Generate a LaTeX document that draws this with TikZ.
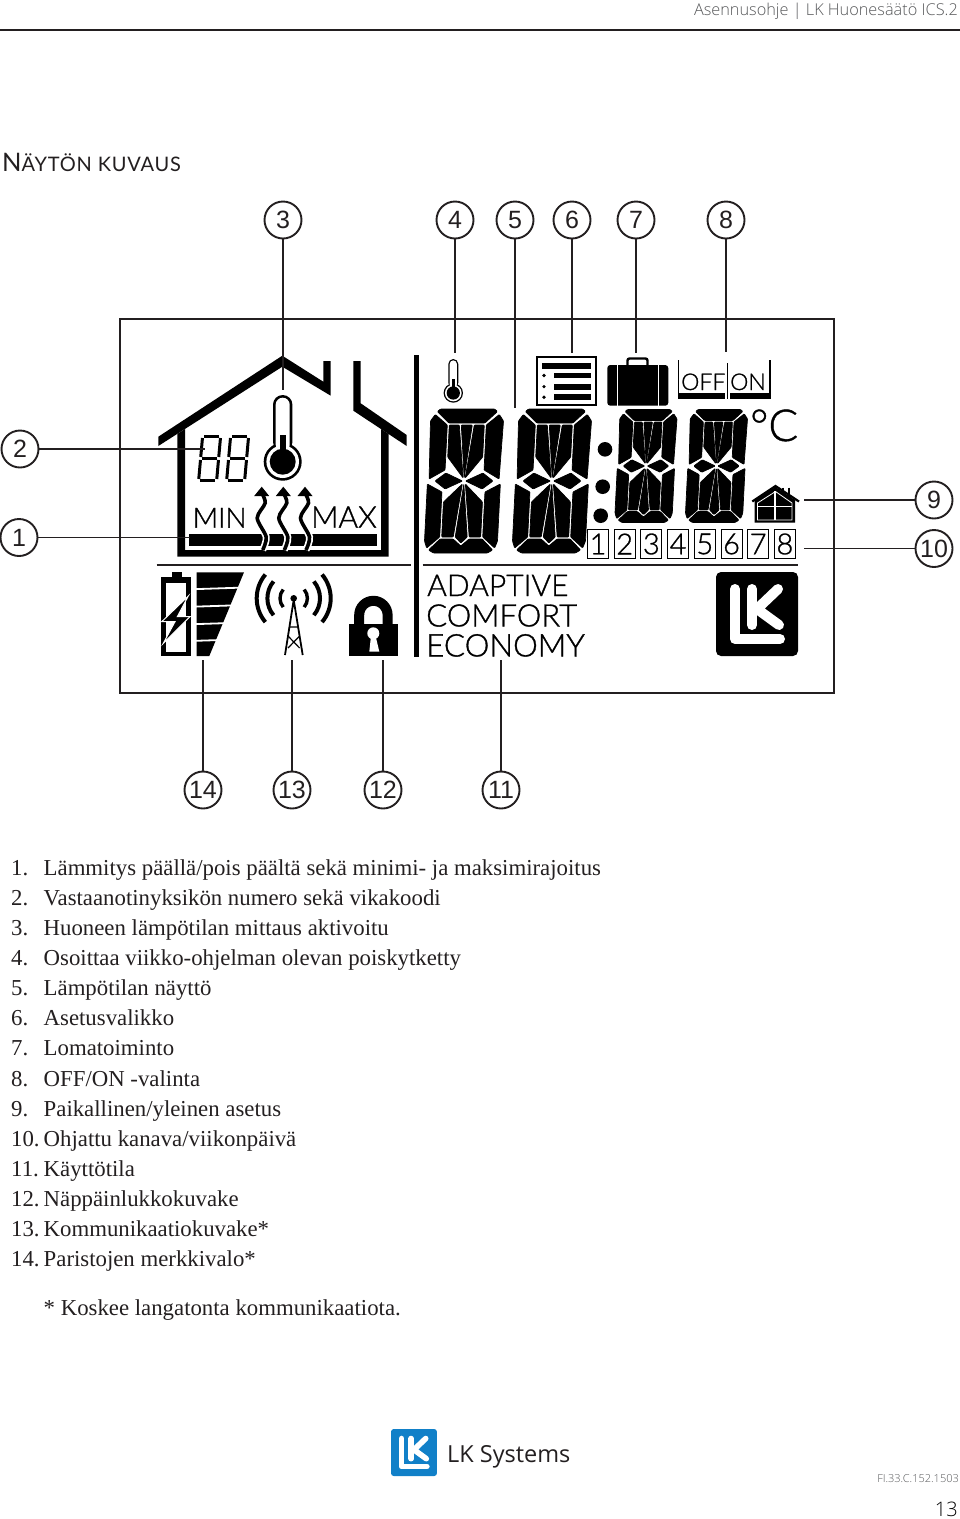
\documentclass[tikz,border=0pt]{standalone}
\usepackage{fontspec}
\usepackage{xcolor}
\setmainfont{Liberation Serif}
\newfontfamily\lcdfont{Lato Light}[FakeBold=1]
\newfontfamily\headfont{Open Sans Light}
\newfontfamily\brandfont{Open Sans}
\newfontfamily\titlefont{Lato}[LetterSpace=4]
\newfontfamily\labelfont{Liberation Sans}
\definecolor{ink}{HTML}{231F20}
\definecolor{headgrey}{HTML}{58595B}
\definecolor{lkblue}{HTML}{1180C8}
\newcommand{\fs}[1]{\fontsize{#1}{#1}\selectfont}
\tikzset{
  callout/.style={circle, draw=ink, line width=1.9pt, minimum size=37pt, inner sep=0pt,
    fill=white, text=ink, font=\labelfont\fs{25}},
  leader/.style={draw=ink, line width=1.7pt},
  lcdtext/.style={anchor=base west, inner sep=0pt, text=black, font=\lcdfont\fs{#1}},
  listtext/.style={anchor=base west, inner sep=0pt, text=ink, font=\fs{22.8}},
  numbox/.style={draw=black, line width=1pt, minimum width=21pt, minimum height=29pt, inner sep=0pt,
    text=black, font=\lcdfont\fs{29}},
  lcdseg/.style={fill=black, draw=black, line width=0.7pt, rounded corners=0.8pt},
}
% big segment digit, centre x, centre y, scale
\newcommand{\lcddigit}[3]{%
  \begin{scope}[shift={(#1,#2)}, scale=#3, xslant=0.05]
    \filldraw[lcdseg] (-27,-72) -- (27,-72) -- (30,-69.5) -- (18,-58) -- (-18,-58) -- (-30,-69.5) -- cycle;
    \filldraw[lcdseg] (-27,72) -- (27,72) -- (32,69) -- (21,58) -- (8,58) -- (0,65) -- (-8,58) -- (-21,58) -- (-32,69) -- cycle;
    \filldraw[lcdseg] (0,-3) -- (-5.5,-56) -- (5.5,-56) -- cycle;
    \filldraw[lcdseg] (0,3) -- (6,56) -- (0,62) -- (-6,56) -- cycle;
    \foreach \sx in {1,-1} {
      \begin{scope}[xscale=\sx]
        \filldraw[lcdseg] (-32,-66.5) -- (-19.5,-56) -- (-19.5,-11) -- (-35,-2) -- (-36.5,-60) -- cycle;
        \filldraw[lcdseg] (-17.5,-56) -- (-7.5,-56) -- (-1,-3) -- (-17.5,-24) -- cycle;
        \filldraw[lcdseg] (-29,0) -- (-18.5,-8) -- (-1.5,0) -- (-18.5,8) -- cycle;
        \filldraw[lcdseg] (-36.5,3) -- (-21.5,11) -- (-21.5,56) -- (-34,67) -- (-36.5,60) -- cycle;
        \filldraw[lcdseg] (-19.5,21) -- (-1.5,3) -- (-8,56) -- (-19.5,56) -- cycle;
      \end{scope}
    }
  \end{scope}
}
% small seven segment digit, bottom left corner
\newcommand{\sevenseg}[2]{%
  \begin{scope}[shift={(#1,#2)}, xslant=0.09]
    \foreach \ax/\ay/\bx/\by in {3/-45.5/18/-45.5, 3/-23.5/18/-23.5, 3/-1.5/18/-1.5,
        1.5/-44/1.5/-25, 1.5/-22/1.5/-3, 19.5/-44/19.5/-25, 19.5/-22/19.5/-3}
      \draw[black, line width=3pt] (\ax,\ay) -- (\bx,\by);
  \end{scope}
}
% thermometer, bulb centre x, y, scale
\newcommand{\thermo}[3]{%
  \begin{scope}[shift={(#1,#2)}, scale=#3]
    \fill[black] (0,0) circle (19);
    \fill[black, rounded corners=#3*9.7pt] (-9.7,-10) -- (-9.7,-66.7) -- (9.7,-66.7) -- (9.7,-10) -- cycle;
    \fill[white] (0,0) circle (16.3);
    \fill[white, rounded corners=#3*7pt] (-7,-10) -- (-7,-64) -- (7,-64) -- (7,-10) -- cycle;
    \fill[black] (0,0) circle (13);
    \fill[black] (-2.9,-27) rectangle (2.9,-5);
  \end{scope}
}
% logo, top left x, y, scale, colour
\newcommand{\lklogo}[4]{%
  \begin{scope}[shift={(#1,#2)}, scale=#3]
    \fill[#4, rounded corners=#3*5pt] (0,0) rectangle (82,84);
    \draw[white, line width=#3*10pt, line cap=round, line join=round] (19,17) -- (19,67) -- (64,67);
    \draw[white, line width=#3*10pt, line cap=round] (36,17) -- (36,53);
    \draw[white, line width=#3*10pt, line cap=round, line join=round] (62,17) -- (41,37) -- (63,53);
  \end{scope}
}

\begin{document}
\begin{tikzpicture}[x=1pt, y=-1pt]
  \useasboundingbox (0,0) rectangle (960,1519);
  % Header
  \node[anchor=base east, inner sep=0pt, text=headgrey, font=\headfont\fs{16.3}] (header) at (958,15) {Asennusohje | LK Huonesäätö ICS.2};
  \draw[ink, line width=2pt] (0,29.5) -- (960,29.5);
  \node[anchor=base west, inner sep=0pt, text=ink] (title) at (2,171)
    {\titlefont\fs{25.5}N\fs{20}ÄYTÖN KUVAUS};

  % Display frame
  \draw[ink, line width=2pt] (120,319) rectangle (834,693);

  % House
  \fill[black] (158.3,436.7) -- (282.3,355.7) -- (323.3,381.7) -- (323.3,361) -- (330.7,361) -- (330.7,395.7) -- (282.3,366.7) -- (158.3,446) -- cycle;
  \fill[black] (353.3,361) -- (360.7,361) -- (360.7,403.3) -- (406.7,435) -- (406.7,446) -- (353.3,410.7) -- cycle;
  \fill[black] (177.3,434) -- (177.3,556.7) -- (388.7,556.7) -- (388.7,434) -- (381,429) -- (381,550) -- (185,550) -- (185,429) -- cycle;
  \sevenseg{197}{482}
  \sevenseg{225}{482}
  \thermo{282.7}{461.7}{1}
  \fill[black] (189.3,534) rectangle (376.7,545.7);
  \node[lcdtext=28] (mintext) at (192.5,527.7) {MIN};
  \node[lcdtext=30] (maxtext) at (311,527.7) {MAX};
  % Heat arrows
  \foreach \wx in {261.7,283.3,305} {
    \draw[white, line width=7pt] plot[smooth] coordinates {(\wx,495) (\wx+3.5,503) (\wx-4.5,518) (\wx+4.5,537) (\wx+1,550)};
    \draw[black, line width=3.6pt] plot[smooth] coordinates {(\wx,493) (\wx+3.5,503) (\wx-4.5,518) (\wx+4.5,537) (\wx+1,550)};
    \fill[black] (\wx,486.7) -- (\wx+7.5,496) -- (\wx-7.5,496) -- cycle;
  }

  % Separators
  \fill[black] (414,355) rectangle (418.7,657);
  \draw[ink, line width=1.3pt] (156.7,565) -- (410.7,565);
  \draw[ink, line width=1.3pt] (422.7,565) -- (798,565);

  % Battery and level bars
  \fill[black] (171.7,572) rectangle (181.7,578);
  \fill[black] (161,577) rectangle (190.7,656);
  \fill[white] (165.7,583.3) rectangle (185.7,651.7);
  \fill[black, draw=white, line width=1pt] (188.3,596) -- (161.7,621.7) -- (175,621.7) -- (163.3,643.3) -- (190,616.7) -- (177.3,616.7) -- cycle;
  \fill[black] (196.7,572.3) -- (244,572.3) -- (209.3,656) -- (196.7,656) -- cycle;
  \foreach \by in {588.3,605.8,623.3,640}
    \draw[white, line width=1.8pt] (196,\by+0.8) -- (245,\by-0.8);

  % Antenna
  \fill[black] (293.7,598.3) circle (3.3);
  \foreach \rr/\lw in {13.7/3.4, 26.3/4, 37/4} {
    \draw[black, line width=\lw pt] ([shift={(40:\rr)}]293.7,598.3) arc (40:-40:\rr);
    \draw[black, line width=\lw pt] ([shift={(140:\rr)}]293.7,598.3) arc (140:220:\rr);
  }
  \draw[black, line width=1.8pt, line join=round] (285,655) -- (293.7,600) -- (302.7,655);
  \draw[black, line width=1.2pt] (288,636) -- (299.6,648) (299.6,636) -- (288,648) (289.5,627) -- (298,627);

  % Lock
  \draw[black, line width=10pt] (359.2,626) -- (359.2,615) arc (180:360:14.2) -- (387.6,626);
  \fill[black] (349.3,624.3) rectangle (397.7,656);
  \fill[white] (373.3,633.3) circle (6);
  \fill[white] (371,636) -- (375.6,636) -- (379.3,651.7) -- (369.3,651.7) -- cycle;

  % Small thermometer and settings list
  \thermo{453.3}{393}{0.51}
  \draw[black, line width=1.7pt] (536.7,357.3) rectangle (596,405);
  \fill[black] (542.3,362.7) rectangle (591,369);
  \foreach \ly in {375.5,386.6,397.2} {
    \fill[black] (544,\ly) circle (1.8);
    \fill[black] (554.3,\ly-2.9) rectangle (591,\ly+2.9);
  }

  % Case
  \draw[black, line width=2.4pt, rounded corners=2pt] (627.5,366) -- (627.5,358.5) -- (647.5,358.5) -- (647.5,366);
  \fill[black, rounded corners=3pt] (607.3,365) rectangle (668.3,405.7);
  \draw[white, line width=1pt] (617.3,365) -- (617.3,405.7) (658.3,365) -- (658.3,405.7);

  % OFF ON
  \draw[black, line width=1.5pt] (678.7,360) -- (678.7,396);
  \draw[black, line width=1.5pt] (770,360) -- (770,396);
  \fill[black] (678,393) rectangle (725,399);
  \fill[black] (730,393) rectangle (770.7,399);
  \draw[black, line width=1.2pt] (727.5,363) -- (727.5,399);
  \node[lcdtext=23] (offtext) at (681,390) {OFF};
  \node[lcdtext=23] (ontext) at (730,390) {ON};

  % Digits
  \lcddigit{464}{481}{1}
  \lcddigit{552}{481}{1}
  \lcddigit{646}{466}{0.785}
  \lcddigit{716.5}{466}{0.785}
  \fill[black] (605,449.3) circle (7.3);
  \fill[black] (602.7,486.7) circle (7.3);
  \fill[black] (600.7,515.7) circle (7.3);
  \node[lcdtext=44] (celsius) at (750,441) {°C};

  % Small house
  \draw[black, line width=2.2pt] (783,487.5) -- (783,497) (788.7,487.5) -- (788.7,497);
  \draw[black, line width=2.2pt] (752.3,501.5) -- (775.5,486) -- (799,501.5);
  \fill[black] (754.5,500) -- (775.5,487) -- (795,500) -- (795,522.7) -- (754.5,522.7) -- cycle;
  \draw[white, line width=0.8pt] (757.5,503) -- (775.5,491.5) -- (792,503) -- (792,520) -- (757.5,520) -- cycle;
  \draw[white, line width=1.4pt] (775,491) -- (775,520) (757.5,506.5) -- (792,506.5);

  % Channel boxes
  \foreach \i in {1,...,8} {
    \pgfmathsetmacro\bx{598+(\i-1)*26.7}
    \node[numbox] (day\i) at (\bx,544) {\i};
  }

  % Modes
  \node[lcdtext=30] (adaptive) at (427,596) {ADAPTIVE};
  \node[lcdtext=31] (comfort) at (426,626.5) {COMFORT};
  \node[lcdtext=31.3] (economy) at (426,656.5) {ECONOMY};
  \lklogo{716}{572}{1}{black}

  % Callouts
  \foreach \n/\cx/\cy/\ex/\ey in {3/283/220/283/390, 4/455/220/455/353, 5/515/220/515/408,
      6/572/220/572/353, 7/636/220/636/353, 8/726/220/726/352,
      2/20/449/205/449, 1/19/537.5/190/537.5, 9/934/500/804/500, 10/934/548.5/804/548.5,
      14/203/790/203/660, 13/292/790/292/660, 12/383/790/383/660, 11/501/790/501/660} {
    \coordinate (e\n) at (\ex,\ey);
    \node[callout] (c\n) at (\cx,\cy) {\n};
    \draw[leader] (c\n) -- (e\n);
  }

  % List
  \foreach[count=\n] \txt in {%
    Lämmitys päällä/pois päältä sekä minimi- ja maksimirajoitus,
    Vastaanotinyksikön numero sekä vikakoodi,
    Huoneen lämpötilan mittaus aktivoitu,
    Osoittaa viikko-ohjelman olevan poiskytketty,
    Lämpötilan näyttö,
    Asetusvalikko,
    Lomatoiminto,
    OFF/ON -valinta,
    Paikallinen/yleinen asetus,
    Ohjattu kanava/viikonpäivä,
    Käyttötila,
    Näppäinlukkokuvake,
    Kommunikaatiokuvake*,
    Paristojen merkkivalo*} {
    \pgfmathsetmacro\yy{875+(\n-1)*30.15}
    \node[listtext] (num\n) at (11,\yy) {\n.};
    \node[listtext] (item\n) at (43.5,\yy) {\txt};
  }
  \node[listtext] (note) at (43.5,1315) {* Koskee langatonta kommunikaatiota.};

  % Footer
  \lklogo{391}{1429}{0.56}{lkblue}
  \node[anchor=base west, inner sep=0pt, text=ink, font=\brandfont\fs{23.5}] (brand) at (447,1462) {LK Systems};
  \node[anchor=base east, inner sep=0pt, text=headgrey, font=\headfont\fs{11}] (code) at (959,1482) {FI.33.C.152.1503};
  \node[anchor=base east, inner sep=0pt, text=black, font=\headfont\fs{20}] (page) at (958,1516) {13};
\end{tikzpicture}
\end{document}
